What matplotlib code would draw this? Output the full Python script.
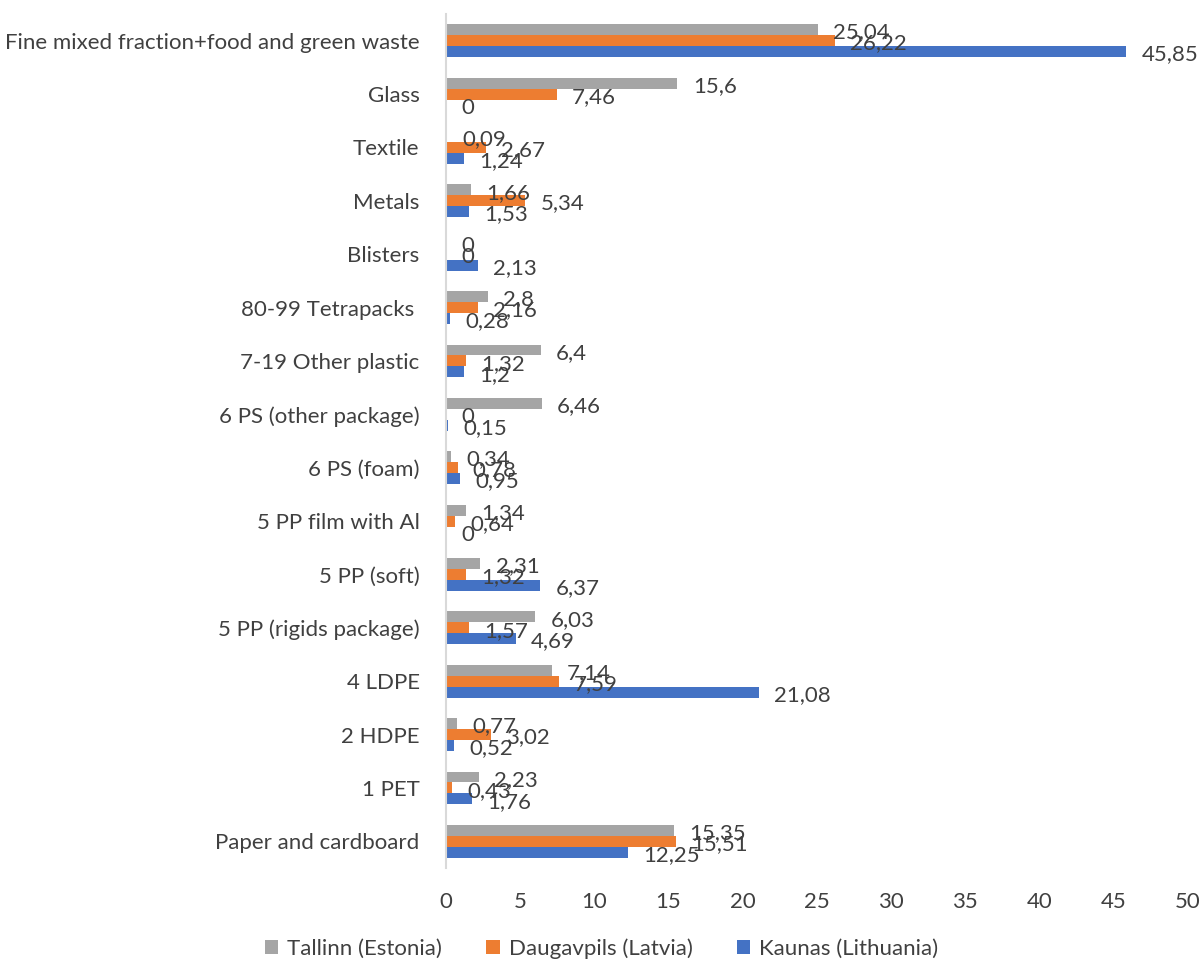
import numpy as np
import matplotlib
matplotlib.use('Agg')
from matplotlib import pyplot as plt

categories = ['Paper and cardboard', '1 PET', '2 HDPE', '4 LDPE',
              '5 PP (rigids package)', '5 PP (soft)', '5 PP film with Al',
              '6 PS (foam)', '6 PS (other package)', '7-19 Other plastic',
              '80-99 Tetrapacks ', 'Blisters', 'Metals', 'Textile', 'Glass',
              'Fine mixed fraction+food and green waste']
tallinn = [15.35, 2.23, 0.77, 7.14, 6.03, 2.31, 1.34, 0.34, 6.46, 6.4,
           2.8, 0, 1.66, 0.09, 15.6, 25.04]
daugavpils = [15.51, 0.43, 3.02, 7.59, 1.57, 1.32, 0.64, 0.78, 0, 1.32,
              2.16, 0, 5.34, 2.67, 7.46, 26.22]
kaunas = [12.25, 1.76, 0.52, 21.08, 4.69, 6.37, 0, 0.95, 0.15, 1.2,
          0.28, 2.13, 1.53, 1.24, 0, 45.85]
series_names = ['Tallinn (Estonia)', 'Daugavpils (Latvia)', 'Kaunas (Lithuania)']
colors = ['#A5A5A5', '#ED7D31', '#4472C4']
xticks = np.arange(0, 51, 5)

plt.rcParams['font.family'] = ['Lato', 'DejaVu Sans']
text_color = '#404040'
fs = 16

fig = plt.figure(figsize=(12.03, 9.65), dpi=100)
ax = fig.add_axes([0.3707, 0.1005, 0.6168, 0.885])

y = np.arange(len(categories))
h = 0.205
offsets = [h, 0, -h]
for vals, name, col, off in zip([tallinn, daugavpils, kaunas], series_names, colors, offsets):
    bars = ax.barh(y + off, vals, height=h, color=col, label=name)
    for b, v in zip(bars, vals):
        ax.annotate(('%g' % v).replace('.', ','),
                    (b.get_width(), b.get_y() + b.get_height() / 2),
                    xytext=(11, -2), textcoords='offset points',
                    va='center', ha='left', fontsize=fs, color=text_color)

ax.set_xlim(0, 50)
ax.set_ylim(-0.5, len(categories) - 0.5)
ax.set_xticks(xticks)
ax.set_yticks(y)
ax.set_yticklabels(categories)
ax.tick_params(axis='both', length=0, labelsize=fs, colors=text_color)
ax.tick_params(axis='x', pad=17)
ax.tick_params(axis='y', pad=19)
for s in ['top', 'right', 'bottom']:
    ax.spines[s].set_visible(False)
ax.spines['left'].set_color('#D9D9D9')
ax.spines['left'].set_linewidth(1.5)

handles, labels = ax.get_legend_handles_labels()
fig.legend(handles, labels, loc='lower center', bbox_to_anchor=(0.5, -0.014),
           ncol=3, frameon=False, fontsize=fs, handlelength=0.6, handleheight=0.6,
           columnspacing=2.0, handletextpad=0.4, labelcolor=text_color)

fig.savefig('out.png', dpi=100)
